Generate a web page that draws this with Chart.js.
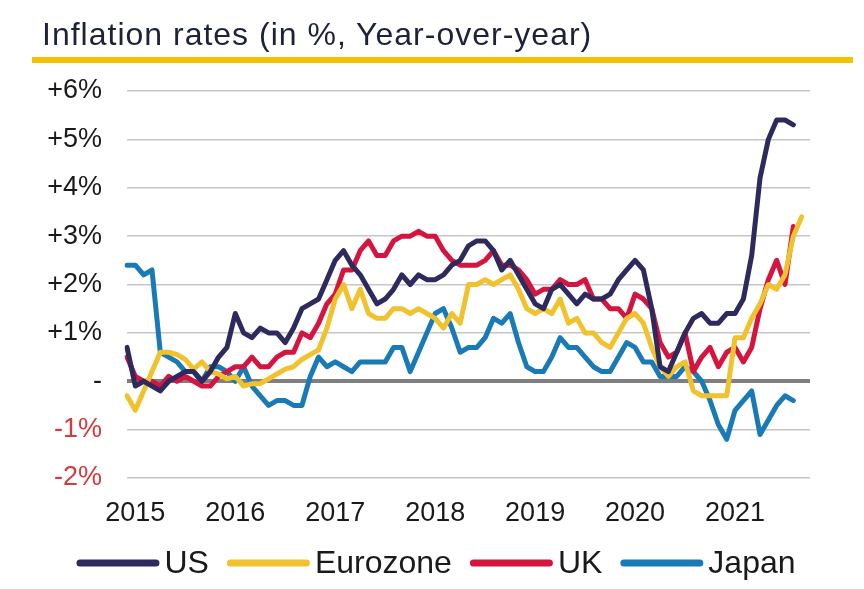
<!DOCTYPE html>
<html>
<head>
<meta charset="UTF-8">
<title>Inflation rates</title>
<script src="https://cdn.jsdelivr.net/npm/chart.js@4.4.1/dist/chart.umd.min.js"></script>
<style>
  body { margin:0; background:#fff; font-family:"Liberation Sans", Arial, sans-serif; }
  #wrap { position:relative; width:864px; height:589px; }
  #title { position:absolute; left:42px; top:18px; font-size:32px; line-height:32px; letter-spacing:1px; color:#1d2237; white-space:nowrap; }
  #rule { position:absolute; left:32px; top:57px; width:821px; height:6px; background:#f2c300; }
  canvas { position:absolute; left:0; top:0; }
</style>
</head>
<body>
<div id="wrap">
  <canvas id="chart" width="864" height="589"></canvas>
  <div id="title">Inflation rates (in %, Year-over-year)</div>
  <div id="rule"></div>
</div>
<script>
// monthly, Dec 2014 .. Oct 2021 (last slot left empty for the right margin)
const firstYear = 2014, firstMonth = 12, monthCount = 83;
const yearTicks = ['2015','2016','2017','2018','2019','2020','2021'];

const us = [0.7,
  -0.1,0.0,-0.1,-0.2,0.0,0.1,0.2,0.2,0.0,0.2,0.5,0.7,
  1.4,1.0,0.9,1.1,1.0,1.0,0.8,1.1,1.5,1.6,1.7,2.1,
  2.5,2.7,2.4,2.2,1.9,1.6,1.7,1.9,2.2,2.0,2.2,2.1,
  2.1,2.2,2.4,2.5,2.8,2.9,2.9,2.7,2.3,2.5,2.2,1.9,
  1.6,1.5,1.9,2.0,1.8,1.6,1.8,1.7,1.7,1.8,2.1,2.3,
  2.5,2.3,1.5,0.3,0.2,0.6,1.0,1.3,1.4,1.2,1.2,1.4,
  1.4,1.7,2.6,4.2,5.0,5.4,5.4,5.3];

const eurozone = [-0.3,
  -0.6,-0.2,0.2,0.6,0.6,0.55,0.45,0.25,0.4,0.2,0.15,0.05,
  0.1,-0.1,-0.05,-0.05,0.05,0.15,0.25,0.3,0.45,0.55,0.65,1.1,
  1.7,2.0,1.5,1.9,1.4,1.3,1.3,1.5,1.5,1.4,1.5,1.4,
  1.3,1.1,1.4,1.2,2.0,2.0,2.1,2.0,2.1,2.2,1.9,1.5,
  1.4,1.5,1.4,1.7,1.2,1.3,1.0,1.0,0.8,0.7,1.0,1.3,
  1.4,1.2,0.7,0.3,0.1,0.3,0.4,-0.2,-0.3,-0.3,-0.3,-0.3,
  0.9,0.9,1.3,1.6,2.0,1.9,2.2,3.0,3.4];

const uk = [0.5,
  0.1,0.0,0.0,-0.1,0.1,0.0,0.1,0.0,-0.1,-0.1,0.1,0.2,
  0.3,0.3,0.5,0.3,0.3,0.5,0.6,0.6,1.0,0.9,1.2,1.6,
  1.8,2.3,2.3,2.7,2.9,2.6,2.6,2.9,3.0,3.0,3.1,3.0,
  3.0,2.7,2.5,2.4,2.4,2.4,2.5,2.7,2.4,2.4,2.3,2.1,
  1.8,1.9,1.9,2.1,2.0,2.0,2.1,1.7,1.7,1.5,1.5,1.3,
  1.8,1.7,1.5,0.8,0.5,0.6,1.0,0.2,0.5,0.7,0.3,0.6,
  0.7,0.4,0.7,1.5,2.1,2.5,2.0,3.2];

const japan = [2.4,
  2.4,2.2,2.3,0.6,0.5,0.4,0.2,0.2,0.0,0.3,0.3,0.2,
  0.0,0.3,-0.1,-0.3,-0.5,-0.4,-0.4,-0.5,-0.5,0.1,0.5,0.3,
  0.4,0.3,0.2,0.4,0.4,0.4,0.4,0.7,0.7,0.2,0.6,1.0,
  1.4,1.5,1.1,0.6,0.7,0.7,0.9,1.3,1.2,1.4,0.8,0.3,
  0.2,0.2,0.5,0.9,0.7,0.7,0.5,0.3,0.2,0.2,0.5,0.8,
  0.7,0.4,0.4,0.1,0.1,0.1,0.3,0.2,0.0,-0.4,-0.9,-1.2,
  -0.6,-0.4,-0.2,-1.1,-0.8,-0.5,-0.3,-0.4];

const months = [];
for (let k = 0; k < monthCount; k++) {
  const m = (firstMonth - 1 + k) % 12 + 1;
  const y = firstYear + Math.floor((firstMonth - 1 + k) / 12);
  months.push(y + '-' + String(m).padStart(2, '0'));
}

const font = "'Liberation Sans', Arial, sans-serif";
const dark = '#1a1a1a';

function line(label, data, color) {
  return {
    label, data,
    borderColor: color, backgroundColor: color,
    borderWidth: 5, pointRadius: 0, tension: 0,
    borderJoinStyle: 'round', borderCapStyle: 'round'
  };
}

// legend drawn as short thick strokes with the name right next to them
const lineLegend = {
  id: 'lineLegend',
  afterDraw(chart) {
    const ctx = chart.ctx;
    const sets = chart.data.datasets;
    const seg = 83, gap = 5, space = 18, y = 563;
    ctx.save();
    ctx.font = '32px ' + font;
    const widths = sets.map(d => seg + gap + ctx.measureText(d.label).width);
    const total = widths.reduce((a, b) => a + b, 0) + space * (sets.length - 1);
    let x = 436 - total / 2;
    sets.forEach((d, k) => {
      ctx.strokeStyle = d.borderColor;
      ctx.lineWidth = 7;
      ctx.lineCap = 'round';
      ctx.beginPath();
      ctx.moveTo(x + 3.5, y);
      ctx.lineTo(x + seg - 3.5, y);
      ctx.stroke();
      ctx.fillStyle = dark;
      ctx.textAlign = 'left';
      ctx.textBaseline = 'middle';
      ctx.fillText(d.label, x + seg + gap, y + 1);
      x += widths[k] + space;
    });
    ctx.restore();
  }
};

new Chart(document.getElementById('chart'), {
  type: 'line',
  data: {
    labels: months,
    datasets: [
      line('US', us, '#2e2a5e'),
      line('Eurozone', eurozone, '#f0c22e'),
      line('UK', uk, '#d4153f'),
      line('Japan', japan, '#1a7ab6')
    ]
  },
  plugins: [lineLegend],
  options: {
    responsive: false,
    animation: false,
    layout: { padding: { top: 91, right: 54, left: 0, bottom: 61 } },
    plugins: {
      tooltip: { enabled: false },
      legend: { display: false }
    },
    scales: {
      x: {
        grid: { display: false },
        border: { display: false },
        afterFit: s => { s.height = 50; },
        ticks: {
          autoSkip: false, maxRotation: 0, padding: 11,
          color: dark, font: { family: font, size: 27 },
          callback: function (v) {
            const lab = months[v];
            if (lab.endsWith('-01') && yearTicks.includes(lab.slice(0, 4))) return lab.slice(0, 4);
            return null;
          }
        }
      },
      y: {
        min: -2, max: 6,
        afterFit: s => { s.width = 127; },
        border: { display: false },
        grid: {
          drawTicks: false,
          color: c => c.tick.value === 0 ? '#7f7f7f' : '#c6c6c6',
          lineWidth: c => c.tick.value === 0 ? 4 : 1.5
        },
        ticks: {
          stepSize: 1, padding: 25,
          font: { family: font, size: 27 },
          color: c => c.tick.value < 0 ? '#d63a3a' : dark,
          callback: v => v === 0 ? '-' : (v > 0 ? '+' + v + '%' : v + '%')
        }
      }
    }
  }
});
</script>
</body>
</html>
